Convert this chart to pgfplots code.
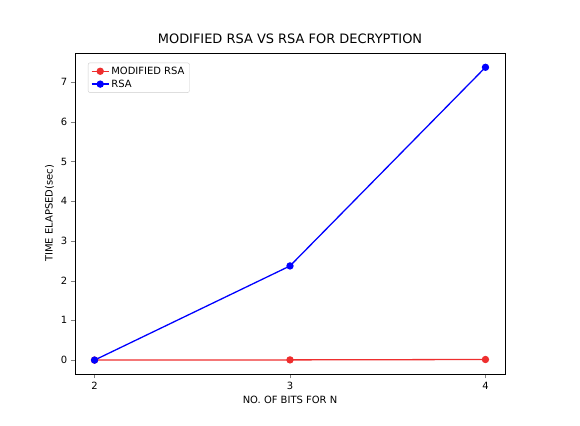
\documentclass[border=0pt]{standalone}
\usepackage{pgfplots}
\pgfplotsset{compat=1.18}
\usepackage{fontspec}
\setmainfont{DejaVu Sans}
\usetikzlibrary{calc}
\begin{document}
\begin{tikzpicture}
\begin{axis}[
  scale only axis, width=430bp, height=321bp,
  xmin=1.9, xmax=4.1, ymin=-0.35, ymax=7.73,
  xtick={2,3,4}, ytick={0,1,2,3,4,5,6,7},
  tick align=outside, tick pos=left,
  ticklabel style={font=\fontsize{10}{11}\selectfont},
  /pgf/number format/assume math mode=true,
  title={\fontsize{13}{14}\selectfont MODIFIED RSA VS RSA FOR DECRYPTION},
  xlabel={\fontsize{10}{11}\selectfont NO. OF BITS FOR N},
  ylabel={\fontsize{10}{11}\selectfont TIME ELAPSED(sec)},
  legend pos=north west,
  legend style={font=\fontsize{10}{11}\selectfont, draw=black!20, rounded corners=2pt},
  legend cell align=left,
]
\addplot[color={rgb,255:red,238;green,46;blue,46}, line width=1.3pt, mark=*, mark size=3pt] coordinates {(2,0.0) (3,0.005) (4,0.015)};
\addlegendentry{MODIFIED RSA}
\addplot[color=blue, line width=1.3pt, mark=*, mark size=3pt] coordinates {(2,0.0) (3,2.37) (4,7.37)};
\addlegendentry{RSA}
\end{axis}
\useasboundingbox ($(current axis.south west)+(-75bp,-52bp)$) rectangle ($(current axis.north east)+(75bp,53bp)$);
\end{tikzpicture}
\end{document}
